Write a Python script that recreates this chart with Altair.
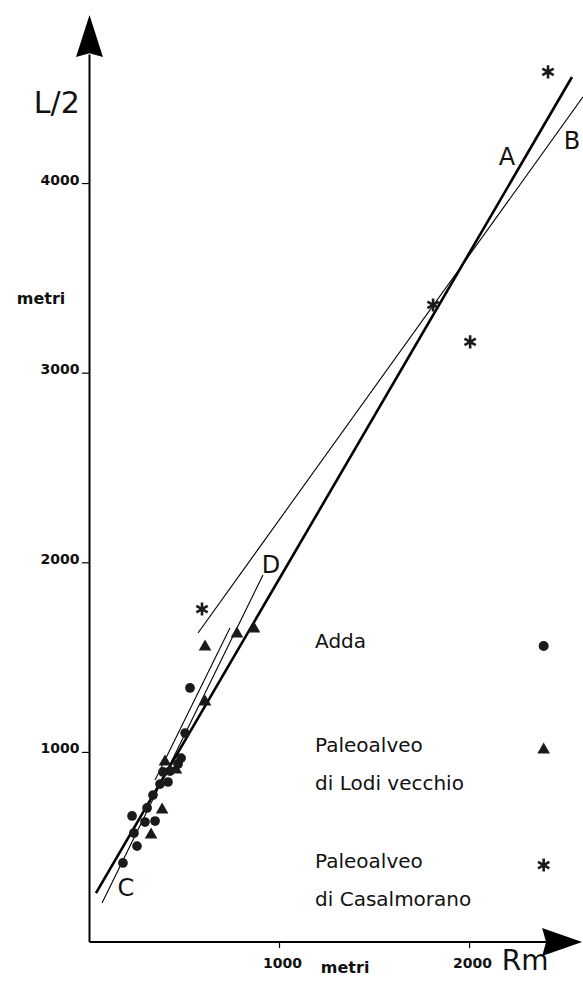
import altair as alt
import pandas as pd

# ---------------- data ----------------
# Adda (dots)
adda_rm = [529, 503, 466, 482, 424, 387, 413, 371, 334, 303, 292, 345, 224, 234, 250, 176]
adda_l2 = [1340, 1102, 939, 970, 902, 897, 844, 833, 775, 707, 633, 638, 665, 575, 506, 417]
# Paleoalveo di Lodi vecchio (triangles)
lodi_rm = [608, 776, 866, 608, 397, 455, 382, 324]
lodi_l2 = [1566, 1635, 1661, 1276, 960, 918, 707, 575]
# Paleoalveo di Casalmorano (asterisks)
casal_rm = [592, 1808, 2003, 2413]
casal_l2 = [1756, 3360, 3165, 4589]

# fitted lines (end points)
line_names = ["A", "A", "B", "B", "CD", "CD", "E", "E"]
line_rm = [34, 2539, 571, 2597, 66, 913, 739, 345]
line_l2 = [258, 4562, 1630, 4457, 206, 1936, 1656, 854]

# line letters
letter_txt = ["A", "B", "C", "D"]
letter_rm = [2197, 2539, 192, 955]
letter_l2 = [4135, 4219, 280, 1983]

# axis ticks
y_ticks = [1000, 2000, 3000, 4000]
x_ticks = [1000, 2000]

# legend
legend_lines = ["Adda", "Paleoalveo", "di Lodi vecchio", "Paleoalveo", "di Casalmorano"]
legend_line_l2 = [1580, 1036, 836, 422, 222]
legend_text_rm = 1187
legend_sym_rm = 2390
legend_sym_l2 = [1561, 1023, 406]

# ---------------- layout ----------------
W, H = 583, 983
XD = [-471, 2597]
YD = [-216, 4968]
X_TOP = 2420   # end of x axis line (under arrow)
Y_TOP = 4680   # end of y axis line (under arrow)

xs = alt.Scale(domain=XD, nice=False, zero=False)
ys = alt.Scale(domain=YD, nice=False, zero=False)


def X(field, **kw):
    return alt.X(field, type="quantitative", scale=xs, axis=None, **kw)


def Y(field, **kw):
    return alt.Y(field, type="quantitative", scale=ys, axis=None, **kw)


# axes lines
axes_df = pd.DataFrame({"x": [0, 0], "y": [0, 0], "x2": [0, X_TOP], "y2": [Y_TOP, 0]})
axes = alt.Chart(axes_df).mark_rule(color="black", strokeWidth=2).encode(
    x=X("x"), y=Y("y"), x2="x2", y2="y2"
)

# arrowheads
up_path = "M0,-1L0.64,1L0,0.82L-0.64,1Z"
right_path = "M1,0L-1,0.7L-0.8,0L-1,-0.7Z"
arr_up = alt.Chart(pd.DataFrame({"x": [0], "y": [4778]})).mark_point(
    shape=up_path, filled=True, color="black", size=1764, opacity=1
).encode(x=X("x"), y=Y("y"))
arr_right = alt.Chart(pd.DataFrame({"x": [2487], "y": [0]})).mark_point(
    shape=right_path, filled=True, color="black", size=1600, opacity=1
).encode(x=X("x"), y=Y("y"))

# ticks
yt_df = pd.DataFrame({"v": y_ticks, "lab": [str(v) for v in y_ticks], "x0": -40, "x1": 0})
yticks = alt.Chart(yt_df).mark_rule(color="black", strokeWidth=1.2).encode(
    x=X("x0"), x2="x1", y=Y("v")
)
ylabels = alt.Chart(yt_df).mark_text(
    font="DejaVu Sans", fontWeight="bold", fontSize=14, align="right",
    baseline="alphabetic", dx=-10, dy=1, color="#111"
).encode(x=alt.X("x1:Q", scale=xs, axis=None), y=Y("v"), text="lab:N")

xt_df = pd.DataFrame({"v": x_ticks, "lab": [str(v) for v in x_ticks], "y0": 0, "y1": -32})
xticks = alt.Chart(xt_df).mark_rule(color="black", strokeWidth=1.2).encode(
    x=X("v"), y=Y("y0"), y2="y1"
)
xlabels = alt.Chart(xt_df).mark_text(
    font="DejaVu Sans", fontWeight="bold", fontSize=14, align="center",
    baseline="alphabetic", dy=26, dx=3, color="#111"
).encode(x=X("v"), y=alt.Y("y0:Q", scale=ys, axis=None), text="lab:N")

# lines
lines_df = pd.DataFrame({"name": line_names, "rm": line_rm, "l2": line_l2,
                         "o": list(range(len(line_names)))})
thick = alt.Chart(lines_df[lines_df["name"] == "A"]).mark_line(
    color="black", strokeWidth=2.6
).encode(x=X("rm"), y=Y("l2"), detail="name:N", order="o:Q")
thin = alt.Chart(lines_df[lines_df["name"] != "A"]).mark_line(
    color="black", strokeWidth=1.1
).encode(x=X("rm"), y=Y("l2"), detail="name:N", order="o:Q")

# points
adda_df = pd.DataFrame({"rm": adda_rm, "l2": adda_l2})
lodi_df = pd.DataFrame({"rm": lodi_rm, "l2": lodi_l2})
casal_df = pd.DataFrame({"rm": casal_rm, "l2": casal_l2})

ast_path = "M0,-1L0,1M-0.87,-0.5L0.87,0.5M-0.87,0.5L0.87,-0.5"

dots = alt.Chart(adda_df).mark_point(
    shape="circle", filled=True, color="#1a1a1a", size=95, opacity=1
).encode(x=X("rm"), y=Y("l2"))
tris = alt.Chart(lodi_df).mark_point(
    shape="triangle-up", filled=True, color="#1a1a1a", size=160, opacity=1
).encode(x=X("rm"), y=Y("l2"))
asts = alt.Chart(casal_df).mark_point(
    shape=ast_path, filled=False, color="#1a1a1a", size=170, strokeWidth=2.6, opacity=1
).encode(x=X("rm"), y=Y("l2"))

# line letters
let_df = pd.DataFrame({"t": letter_txt, "rm": letter_rm, "l2": letter_l2})
letters = alt.Chart(let_df).mark_text(
    font="DejaVu Sans", fontSize=24, align="center", baseline="middle", color="#111"
).encode(x=X("rm"), y=Y("l2"), text="t:N")

# legend
leg_df = pd.DataFrame({"t": legend_lines, "l2": legend_line_l2, "rm": legend_text_rm})
leg_text = alt.Chart(leg_df).mark_text(
    font="DejaVu Sans", fontSize=20, align="left", baseline="middle", color="#111"
).encode(x=X("rm"), y=Y("l2"), text="t:N")

leg_dot = alt.Chart(pd.DataFrame({"rm": [legend_sym_rm], "l2": [legend_sym_l2[0]]})).mark_point(
    shape="circle", filled=True, color="#1a1a1a", size=100, opacity=1
).encode(x=X("rm"), y=Y("l2"))
leg_tri = alt.Chart(pd.DataFrame({"rm": [legend_sym_rm], "l2": [legend_sym_l2[1]]})).mark_point(
    shape="triangle-up", filled=True, color="#1a1a1a", size=160, opacity=1
).encode(x=X("rm"), y=Y("l2"))
leg_ast = alt.Chart(pd.DataFrame({"rm": [legend_sym_rm], "l2": [legend_sym_l2[2]]})).mark_point(
    shape=ast_path, filled=False, color="#1a1a1a", size=170, strokeWidth=2.6, opacity=1
).encode(x=X("rm"), y=Y("l2"))

# axis titles
ttl_df = pd.DataFrame({
    "t": ["L/2", "Rm"],
    "rm": [-172, 2292],
    "l2": [4420, -106],
    "s": [30, 28],
})
titles_big = alt.Chart(ttl_df).mark_text(
    font="DejaVu Sans", align="center", baseline="middle", color="#111"
).encode(x=X("rm"), y=Y("l2"), text="t:N",
         size=alt.Size("s:Q", scale=None, legend=None))

metri_df = pd.DataFrame({"t": ["metri", "metri"], "rm": [-255, 1345], "l2": [3391, -137]})
metri = alt.Chart(metri_df).mark_text(
    font="DejaVu Sans", fontWeight="bold", fontSize=16, align="center",
    baseline="middle", color="#111"
).encode(x=X("rm"), y=Y("l2"), text="t:N")

chart = alt.layer(
    thin, thick, axes, arr_up, arr_right, yticks, ylabels, xticks, xlabels,
    dots, tris, asts, letters, leg_text, leg_dot, leg_tri, leg_ast,
    titles_big, metri
).properties(
    width=W, height=H, padding=0,
    autosize=alt.AutoSizeParams(type="none"),
    background="white",
).configure_view(stroke=None)

chart.save("out.html", embed_options={"renderer": "svg", "actions": False})
